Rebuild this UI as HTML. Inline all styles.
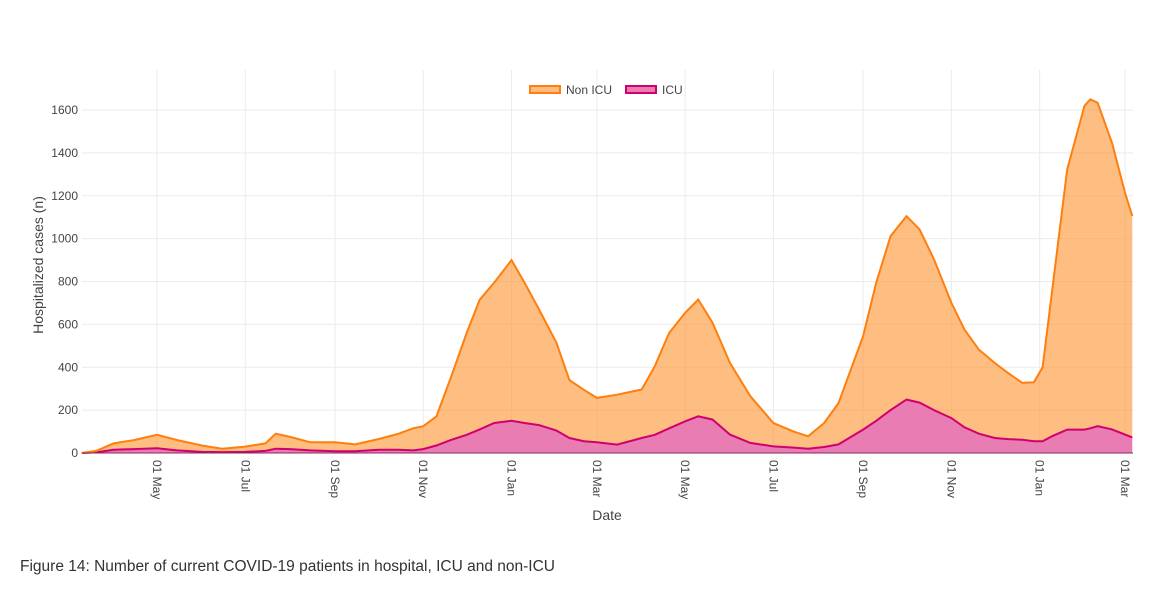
<!DOCTYPE html>
<html><head><meta charset="utf-8"><style>
body{margin:0;background:#fff;width:1160px;height:589px;overflow:hidden;font-family:"Liberation Sans",sans-serif}
svg{position:absolute;left:0;top:0}
.cap{position:absolute;left:20px;top:558px;font-size:15.5px;color:#333}
</style></head><body>
<svg width="1160" height="589">
<g id="grid"></g><g id="marks"></g><g id="axes"></g>
<g>
<rect x="530" y="86" width="30" height="7" fill="#fdbb7f" stroke="#ff7f0e" stroke-width="2"/>
<text x="566" y="94" font-size="12" fill="#444">Non ICU</text>
<rect x="626" y="86" width="30" height="7" fill="#e87cb3" stroke="#d0006f" stroke-width="2"/>
<text x="662" y="94" font-size="12" fill="#444">ICU</text>
</g>
<text x="607" y="520" font-size="14" fill="#444" text-anchor="middle">Date</text>
<text transform="translate(43,265) rotate(-90)" font-size="14" fill="#444" text-anchor="middle">Hospitalized cases (n)</text>
</svg>
<div class="cap">Figure 14: Number of current COVID-19 patients in hospital, ICU and non-ICU</div>
<script>
const dates=["2020-03-10","2020-03-20","2020-04-01","2020-04-15","2020-05-01","2020-05-15","2020-06-01","2020-06-15","2020-07-01","2020-07-15","2020-07-22","2020-08-01","2020-08-15","2020-09-01","2020-09-15","2020-10-01","2020-10-15","2020-10-25","2020-11-01","2020-11-10","2020-11-20","2020-12-01","2020-12-10","2020-12-20","2021-01-01","2021-01-10","2021-01-20","2021-02-01","2021-02-10","2021-02-20","2021-03-01","2021-03-15","2021-04-01","2021-04-10","2021-04-20","2021-05-01","2021-05-10","2021-05-20","2021-06-01","2021-06-15","2021-07-01","2021-07-15","2021-07-25","2021-08-05","2021-08-15","2021-09-01","2021-09-10","2021-09-20","2021-10-01","2021-10-10","2021-10-20","2021-11-01","2021-11-10","2021-11-20","2021-12-01","2021-12-10","2021-12-20","2021-12-28","2022-01-03","2022-01-10","2022-01-20","2022-02-01","2022-02-05","2022-02-10","2022-02-20","2022-03-01","2022-03-06"];
const icuValues=[0,3,15,18,22,12,5,4,5,10,20,18,12,8,8,15,15,12,18,35,60,85,110,140,150,140,130,105,70,55,50,39,70,85,115,148,171,156,86,47,31,25,20,28,40,109,150,200,249,235,200,163,120,90,70,65,62,55,55,80,109,109,115,125,110,86,73];
const nonIcuValues=[0,7,30,42,63,48,30,16,25,35,70,57,38,42,32,50,75,103,107,135,290,475,605,655,750,655,540,410,270,240,207,233,226,320,445,506,545,451,334,218,109,75,58,112,193,436,644,812,856,808,703,537,456,392,350,309,265,275,345,698,1214,1510,1535,1509,1337,1128,1032];
const yTicks=[0,200,400,600,800,1000,1200,1400,1600];
const xTickDates=["2020-05-01","2020-07-01","2020-09-01","2020-11-01","2021-01-01","2021-03-01","2021-05-01","2021-07-01","2021-09-01","2021-11-01","2022-01-01","2022-03-01"];
const xTickLabels=["01 May","01 Jul","01 Sep","01 Nov","01 Jan","01 Mar","01 May","01 Jul","01 Sep","01 Nov","01 Jan","01 Mar"];
const NS="http://www.w3.org/2000/svg";
const L=82,R=1133,T=70,B=453;
const t0=Date.parse("2020-05-01"),pxDay=1.447,x0=157;
const xs=d=>x0+(Date.parse(d)-t0)/864e5*pxDay;
const ys=v=>B-v*(343/1600);
function mk(tag,attrs,parent){const e=document.createElementNS(NS,tag);for(const k in attrs)e.setAttribute(k,attrs[k]);parent.appendChild(e);return e;}
const grid=document.getElementById('grid'),marks=document.getElementById('marks'),axes=document.getElementById('axes');
yTicks.forEach(v=>{
 const g=mk('line',{x1:L,x2:R,y1:ys(v),y2:ys(v),stroke:'#ebebeb','stroke-width':1},grid);
 
 
 const t=mk('text',{x:78,y:ys(v)+4,'font-size':12,fill:'#444','text-anchor':'end'},axes);
 t.textContent=v;
 
 
});
xTickDates.forEach((d,i)=>{
 const x=xs(d);
 const g=mk('line',{x1:x,x2:x,y1:T,y2:B,stroke:'#ebebeb','stroke-width':1},grid);
 
 
 const t=mk('text',{transform:`translate(${x-4},460) rotate(90)`,'font-size':12,fill:'#444'},axes);
 t.textContent=xTickLabels[i];
 
 
});
const icuPts=dates.map((d,i)=>[xs(d),ys(icuValues[i])]);
const totPts=dates.map((d,i)=>[xs(d),ys(icuValues[i]+nonIcuValues[i])]);
const ptsStr=p=>p.map(q=>q[0].toFixed(1)+','+q[1].toFixed(1)).join(' ');
const nonArea=mk('polygon',{points:ptsStr(totPts)+' '+ptsStr(icuPts.slice().reverse()),fill:'rgba(253,154,62,0.65)',stroke:'none'},marks);


const icuArea=mk('polygon',{points:ptsStr(icuPts)+` ${xs(dates[dates.length-1])},${B} ${xs(dates[0])},${B}`,fill:'#e87cb3',stroke:'none'},marks);


const icuLine=mk('polyline',{points:ptsStr(icuPts),fill:'none',stroke:'#d0006f','stroke-width':2},marks);


const totLine=mk('polyline',{points:ptsStr(totPts),fill:'none',stroke:'#ff7f0e','stroke-width':2},marks);


const base=mk('line',{x1:L,x2:R,y1:B,y2:B,stroke:'#8a2a5a','stroke-width':1},marks);


</script>
</body></html>
